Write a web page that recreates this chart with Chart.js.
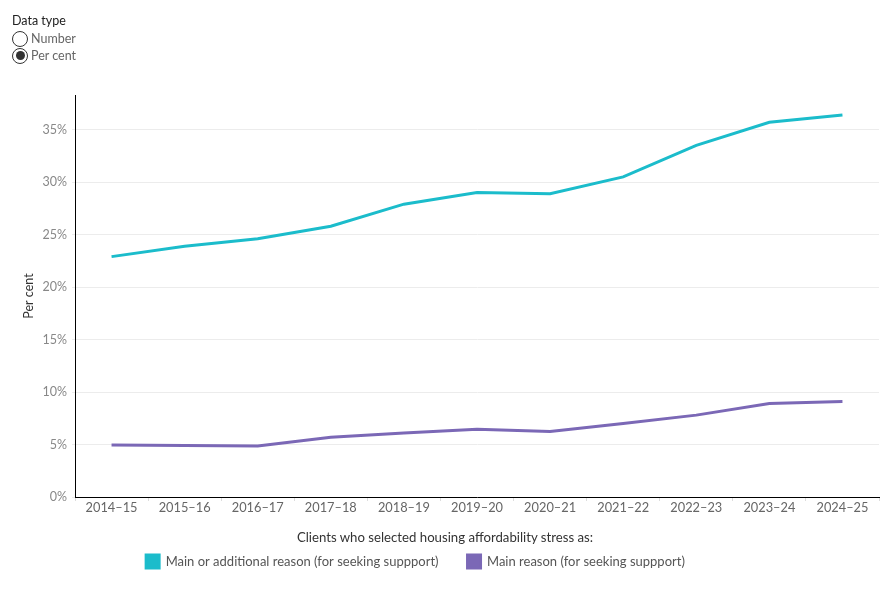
<!DOCTYPE html>
<html>
<head>
<meta charset="utf-8">
<script src="https://cdn.jsdelivr.net/npm/chart.js@4.4.1/dist/chart.umd.min.js"></script>
<style>
  body { margin: 0; background: #fff; font-family: Lato, "Noto Sans", sans-serif; }
  #wrap { position: relative; width: 890px; height: 600px; }
  #chart { position: absolute; left: 0; top: 0; }
  .filter { position: absolute; left: 12px; top: 13px; font-size: 12.5px; color: #333; }
  .filter .title { color: #222; height: 17px; }
  .opt { display: flex; align-items: center; height: 17px; color: #666; }
  .dot { width: 16px; height: 16px; border: 1px solid #333; border-radius: 50%; margin-right: 3px; position: relative; box-sizing: border-box; background: #fff; }
  .dot.on::after { content: ""; position: absolute; left: 2.5px; top: 2.5px; width: 9px; height: 9px; border-radius: 50%; background: #333; }
  #legendTitle { position: absolute; left: 0; width: 890px; top: 529px; line-height: 16px; text-align: center; font-size: 13.2px; color: #333; }
</style>
</head>
<body>
<div id="wrap">
  <canvas id="chart" width="890" height="600"></canvas>
  <div class="filter">
    <div class="title">Data type</div>
    <div class="opt"><span class="dot"></span>Number</div>
    <div class="opt"><span class="dot on"></span>Per cent</div>
  </div>
  <div id="legendTitle">Clients who selected housing affordability stress as:</div>
</div>
<script>
const years = ["2014–15", "2015–16", "2016–17", "2017–18", "2018–19", "2019–20",
               "2020–21", "2021–22", "2022–23", "2023–24", "2024–25"];
// per cent of clients
const mainOrAdditional = [22.9, 23.9, 24.6, 25.8, 27.9, 29.0, 28.9, 30.5, 33.5, 35.7, 36.4];
const mainReason = [4.95, 4.9, 4.85, 5.7, 6.1, 6.45, 6.25, 7.0, 7.8, 8.9, 9.1];
const yTicks = [0, 5, 10, 15, 20, 25, 30, 35];

// the legend items sit a little left of centre in the original
const shiftLegend = {
    id: "shiftLegend",
    afterLayout(chart) {
        chart.legend.left -= 24;
        chart.legend.right -= 24;
    }
};

const ctx = document.getElementById('chart').getContext('2d');
new Chart(ctx, {
    type: "line",
    data: {
        labels: years,
        datasets: [
            {
                label: "Main or additional reason (for seeking suppport)",
                data: mainOrAdditional,
                borderColor: "#1bbccb",
                backgroundColor: "#1bbccb",
                borderWidth: 3,
                pointRadius: 0,
                tension: 0
            },
            {
                label: "Main reason (for seeking suppport)",
                data: mainReason,
                borderColor: "#7b68b6",
                backgroundColor: "#7b68b6",
                borderWidth: 3,
                pointRadius: 0,
                tension: 0
            }
        ]
    },
    plugins: [shiftLegend],
    options: {
        responsive: false,
        animation: false,
        layout: { padding: { top: 95, right: 11, left: 0, bottom: 22 } },
        plugins: {
            tooltip: { enabled: false },
            legend: {
                position: "bottom",
                labels: {
                    boxWidth: 13,
                    boxHeight: 13,
                    padding: 29,
                    color: "#555",
                    font: { family: "Lato", size: 13 }
                }
            }
        },
        scales: {
            x: {
                offset: true,
                afterFit: scale => { scale.height = 29; },
                grid: { drawOnChartArea: false, color: "#ddd", tickLength: 4, offset: true },
                border: { color: "#000", width: 1 },
                ticks: { color: "#666", font: { family: "Lato", size: 12.8 }, padding: -1, maxRotation: 0 }
            },
            y: {
                min: 0,
                max: 38.3,
                afterBuildTicks: scale => { scale.ticks = yTicks.map(v => ({ value: v })); },
                afterFit: scale => { scale.width = 75; },
                grid: { color: "#ececec", tickLength: 3 },
                border: { color: "#000", width: 1 },
                ticks: {
                    color: "#888",
                    font: { family: "Lato", size: 12.5 },
                    padding: 5,
                    callback: v => v + "%"
                },
                title: {
                    display: true,
                    text: "Per cent",
                    color: "#333",
                    font: { family: "Lato", size: 12.5 },
                    padding: { top: 21, bottom: 0 }
                }
            }
        }
    }
});
</script>
</body>
</html>
